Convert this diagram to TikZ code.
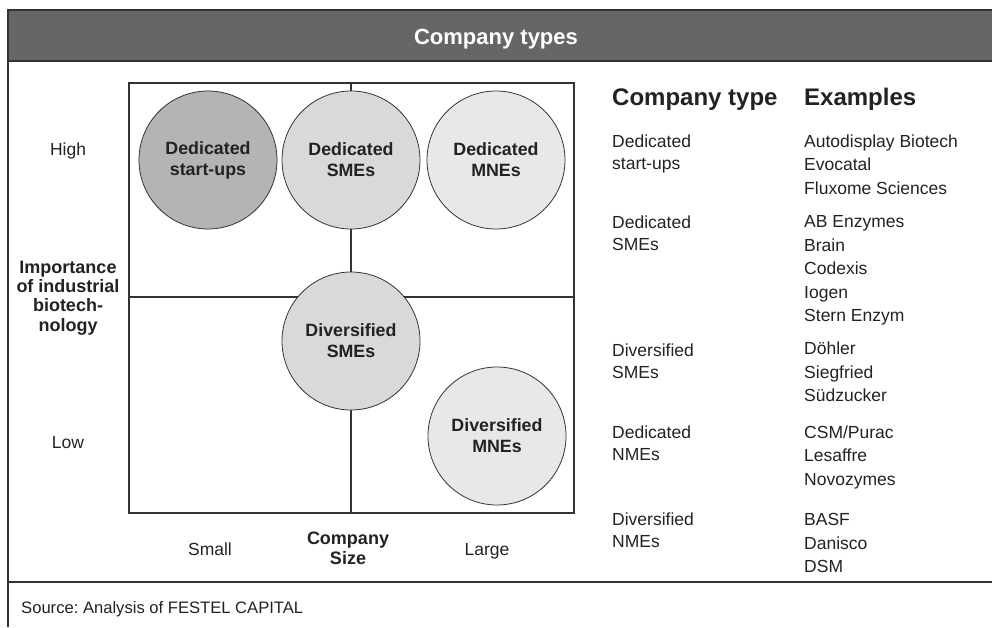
\documentclass[tikz,border=0pt]{standalone}
\usepackage{fontspec}
\setmainfont{Liberation Sans}
\frenchspacing
\definecolor{titlegray}{RGB}{102,102,102}
\definecolor{linegray}{RGB}{51,51,51}
\definecolor{textgray}{RGB}{34,34,34}
\definecolor{startfill}{RGB}{180,180,180}
\definecolor{smefill}{RGB}{217,217,217}
\definecolor{mnefill}{RGB}{232,232,232}

\begin{document}
\begin{tikzpicture}[x=1pt, y=-1pt,
  company/.style={circle, draw=linegray, line width=0.8pt, minimum size=138pt, inner sep=0pt, align=center, text=textgray, font=\fontsize{17.8}{21}\selectfont\bfseries},
  axislabel/.style={anchor=base, inner sep=0pt, text=textgray, font=\fontsize{17.5}{21}\selectfont},
  axistitle/.style={inner sep=0pt, align=center, text=textgray, font=\fontsize{18}{19.3}\selectfont\bfseries},
  listhead/.style={anchor=base west, inner sep=0pt, text=textgray, font=\fontsize{24}{28}\selectfont\bfseries},
  typetext/.style={anchor=north west, inner sep=0pt, align=left, text=textgray, font=\fontsize{17.5}{22}\selectfont},
  exampletext/.style={anchor=north west, inner sep=0pt, align=left, text=textgray, font=\fontsize{17.5}{23.5}\selectfont}]
\useasboundingbox (0,0) rectangle (992,627);

% frame and title bar
\draw[linegray, line width=1.5pt] (8,61) -- (8,627);
\draw[linegray, line width=2pt, fill=titlegray] (8,10) rectangle (996,61);
\node (title) [anchor=base, inner sep=0pt, text=white, font=\fontsize{22}{26}\selectfont\bfseries] at (496,44) {Company types};
\draw[linegray, line width=2pt] (8,582) -- (996,582);
\node (source) [anchor=base west, inner sep=0pt, text=textgray, font=\fontsize{16.6}{20}\selectfont] at (21,613) {Source: Analysis of FESTEL CAPITAL};

% portfolio
\draw[linegray, line width=1.2pt] (129,83) rectangle (574,513);
\draw[linegray, line width=1.2pt] (129,297) -- (574,297);
\draw[linegray, line width=1.2pt] (351,83) -- (351,514);

\node (startups) [company, fill=startfill] at (208,160) {Dedicated\\start-ups};
\node (dedsme) [company, fill=smefill] at (351,160) {Dedicated\\SMEs};
\node (dedmne) [company, fill=mnefill] at (496,160) {Dedicated\\MNEs};
\node (divsme) [company, fill=smefill] at (351,341) {Diversified\\SMEs};
\node (divmne) [company, fill=mnefill] at (497,436) {Diversified\\MNEs};

% axes
\node (high) [axislabel] at (68,155) {High};
\node (low) [axislabel] at (68,448) {Low};
\node (importance) [axistitle] at (68,298) {Importance\\of industrial\\biotech-\\nology};
\node (small) [axislabel] at (210,555) {Small};
\node (large) [axislabel] at (487,555) {Large};
\node (size) [axistitle, font=\fontsize{18}{20}\selectfont\bfseries] at (348,548.5) {Company\\Size};

% list
\node (typehead) [listhead] at (612,105) {Company type};
\node (examplehead) [listhead] at (804,105) {Examples};

\node (type1) [typetext] at (612,134.5) {Dedicated\\start-ups};
\node (type2) [typetext] at (612,215.5) {Dedicated\\SMEs};
\node (type3) [typetext] at (612,344) {Diversified\\SMEs};
\node (type4) [typetext] at (612,425.5) {Dedicated\\NMEs};
\node (type5) [typetext] at (612,513) {Diversified\\NMEs};

\node (examples1) [exampletext] at (804,134.5) {Autodisplay Biotech\\Evocatal\\Fluxome Sciences};
\node (examples2) [exampletext] at (804,215.5) {AB Enzymes\\Brain\\Codexis\\Iogen\\Stern Enzym};
\node (examples3) [exampletext] at (804,342) {Döhler\\Siegfried\\Südzucker};
\node (examples4) [exampletext] at (804,425.5) {CSM/Purac\\Lesaffre\\Novozymes};
\node (examples5) [exampletext] at (804,513.5) {BASF\\Danisco\\DSM};
\end{tikzpicture}
\end{document}
